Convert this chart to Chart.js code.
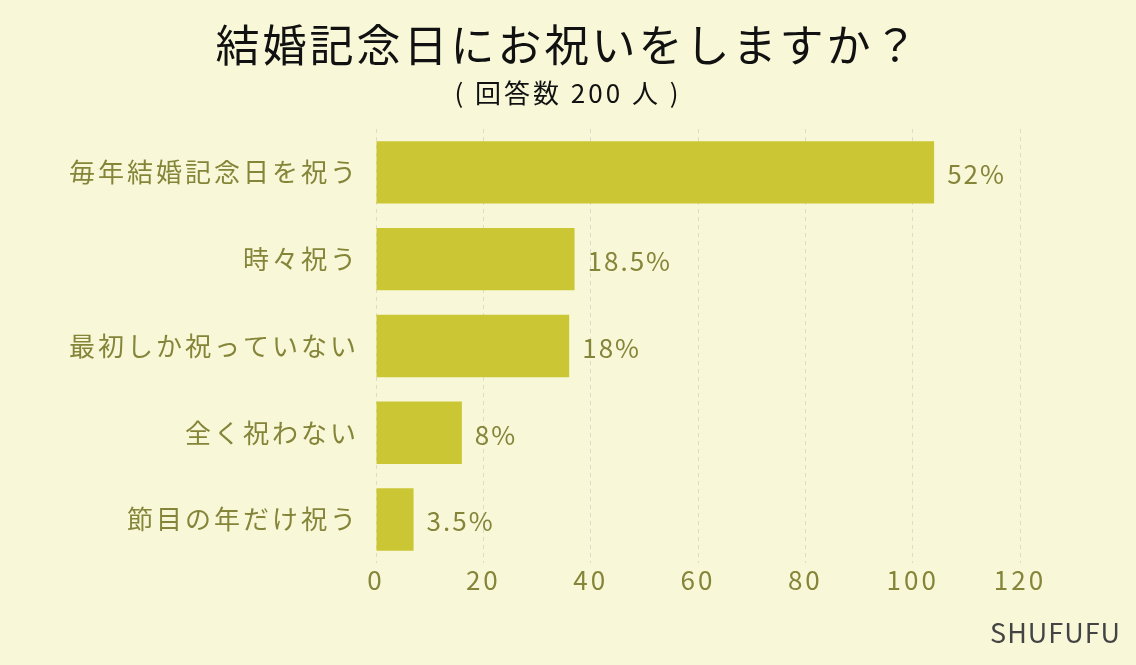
<!DOCTYPE html>
<html lang="ja">
<head>
<meta charset="utf-8">
<title>結婚記念日にお祝いをしますか？</title>
<script src="https://cdn.jsdelivr.net/npm/chart.js@4"></script>
<style>
    html, body { margin: 0; padding: 0; background: #f8f8d9; }
    #wrap { width: 1136px; height: 665px; }
</style>
</head>
<body>
<div id="wrap"><canvas id="chart" width="1136" height="665"></canvas></div>
<script>
// Data (200 respondents)
const categories = ['毎年結婚記念日を祝う', '時々祝う', '最初しか祝っていない', '全く祝わない', '節目の年だけ祝う'];
const counts = [104, 37, 36, 16, 7];
const percents = ['52%', '18.5%', '18%', '8%', '3.5%'];
const xTicks = [0, 20, 40, 60, 80, 100, 120];

const FONT = '"Noto Sans CJK JP", "Noto Sans", sans-serif';
const OLIVE = '#85853a';

// letter spacing for all canvas text
const spacingPlugin = {
    id: 'spacing',
    beforeUpdate(chart) { chart.ctx.letterSpacing = '3px'; },
    beforeDraw(chart) { chart.ctx.letterSpacing = '3px'; }
};

// percentage labels at the end of each bar
const valueLabels = {
    id: 'valueLabels',
    afterDatasetsDraw(chart) {
        const ctx = chart.ctx;
        const meta = chart.getDatasetMeta(0);
        ctx.save();
        ctx.letterSpacing = '2px';
        ctx.font = '26px ' + FONT;
        ctx.fillStyle = OLIVE;
        ctx.textAlign = 'left';
        ctx.textBaseline = 'middle';
        meta.data.forEach((bar, i) => {
            ctx.fillText(percents[i], bar.x + 13, bar.y + 2);
        });
        ctx.restore();
    }
};

// source credit bottom right
const credit = {
    id: 'credit',
    afterDraw(chart) {
        const ctx = chart.ctx;
        ctx.save();
        ctx.letterSpacing = '1px';
        ctx.font = '27px ' + FONT;
        ctx.fillStyle = '#444444';
        ctx.textAlign = 'right';
        ctx.textBaseline = 'middle';
        ctx.fillText('SHUFUFU', 1121, 633);
        ctx.restore();
    }
};

const bgPlugin = {
    id: 'bg',
    beforeDraw(chart) {
        const ctx = chart.ctx;
        ctx.save();
        ctx.fillStyle = '#f8f8d9';
        ctx.fillRect(0, 0, chart.width, chart.height);
        ctx.restore();
    }
};

new Chart(document.getElementById('chart').getContext('2d'), {
    type: 'bar',
    data: {
        labels: categories,
        datasets: [{
            data: counts,
            backgroundColor: '#cbc634',
            borderWidth: 0,
            barPercentage: 0.72,
            categoryPercentage: 1.0
        }]
    },
    options: {
        indexAxis: 'y',
        responsive: false,
        animation: false,
        layout: { padding: { left: 0, right: 0, top: 0, bottom: 67 } },
        plugins: {
            legend: { display: false },
            tooltip: { enabled: false },
            title: {
                display: true,
                text: '結婚記念日にお祝いをしますか？',
                color: '#111111',
                font: { family: FONT, size: 44, weight: 'normal' },
                padding: { top: 19, bottom: 3 }
            },
            subtitle: {
                display: true,
                text: '( 回答数 200 人 )',
                color: '#111111',
                font: { family: FONT, size: 26, weight: 'normal' },
                padding: { top: 3, bottom: 20 }
            }
        },
        scales: {
            x: {
                min: 0,
                max: 120,
                afterBuildTicks(scale) {
                    scale.ticks = xTicks.map(v => ({ value: v }));
                },
                grid: {
                    display: true,
                    color: '#dcdccd',
                    lineWidth: 1,
                    drawTicks: false
                },
                border: { display: false, dash: [4, 4] },
                ticks: {
                    color: OLIVE,
                    padding: 2,
                    font: { family: FONT, size: 26 }
                }
            },
            y: {
                afterFit(scale) { scale.width = 376; },
                grid: { display: false },
                border: { display: false },
                ticks: {
                    color: OLIVE,
                    padding: 9,
                    font: { family: FONT, size: 26 }
                }
            },
            // empty right-hand axis that keeps the space right of 120
            yRight: {
                position: 'right',
                afterFit(scale) { scale.width = 116; },
                grid: { display: false },
                border: { display: false },
                ticks: { display: false }
            }
        }
    },
    plugins: [bgPlugin, spacingPlugin, valueLabels, credit]
});
</script>
</body>
</html>
